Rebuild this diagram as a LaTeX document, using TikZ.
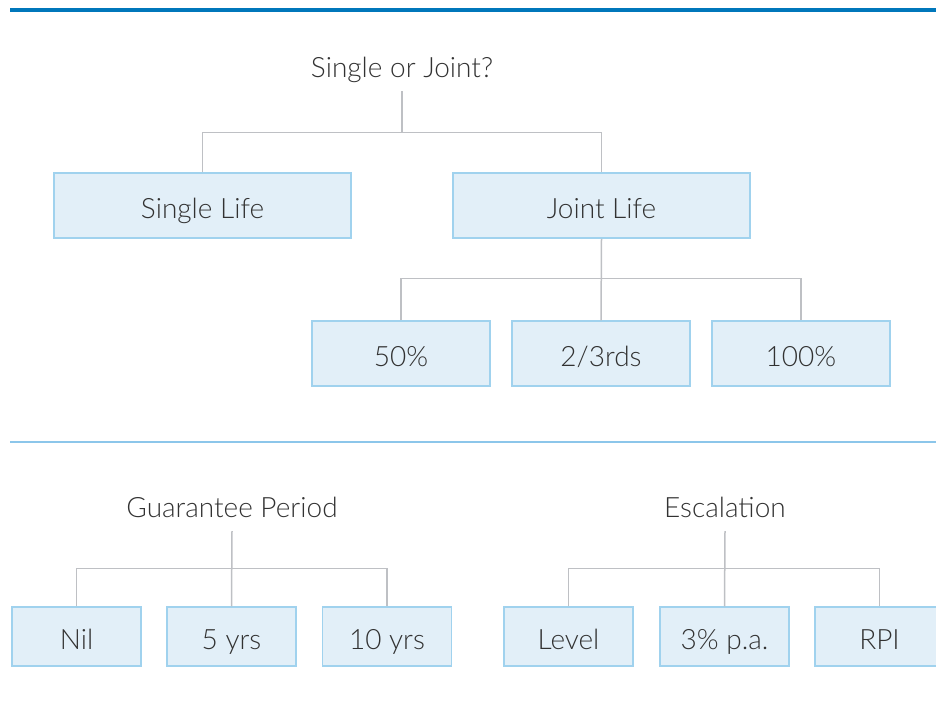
\documentclass[tikz,border=0pt]{standalone}
\usepackage{fontspec}
\setmainfont{Lato}[UprightFont=* Light]

\definecolor{topblue}{RGB}{0,119,187}
\definecolor{ruleblue}{RGB}{140,198,234}
\definecolor{boxfill}{RGB}{226,239,248}
\definecolor{boxline}{RGB}{160,210,238}
\definecolor{linkgrey}{RGB}{190,192,196}
\definecolor{ink}{RGB}{50,50,50}

\tikzset{
  choice/.style={draw=boxline, fill=boxfill, line width=1.5pt, inner sep=0pt, text=ink,
    font=\fontsize{28}{32}\selectfont, text height=25pt, text depth=0pt},
  widebox/.style={choice, minimum width=297pt, minimum height=65pt},
  midbox/.style={choice, minimum width=178pt, minimum height=65pt},
  smallbox/.style={choice, minimum width=129pt, minimum height=59pt},
  heading/.style={text=ink, font=\fontsize{28}{32}\selectfont, inner sep=0pt, text depth=6pt, anchor=base},
  link/.style={draw=linkgrey, line width=1.5pt},
}

\begin{document}
\begin{tikzpicture}[x=1pt,y=-1pt]
\useasboundingbox (0,0) rectangle (936,720);
\clip (0,0) rectangle (936,720);

\draw[topblue, line width=4pt] (10,10) -- (936,10);
\draw[ruleblue, line width=2.5pt] (10,442) -- (936,442);

\node[heading] (q) at (402,77) {Single or Joint?};
\node[widebox] (single) at (202.5,205.5) {Single Life};
\node[widebox] (joint) at (601.5,205.5) {Joint Life};

\node[midbox] (fifty) at (401,353.5) {50\%};
\node[midbox] (thirds) at (601,353.5) {2/3rds};
\node[midbox] (hundred) at (801,353.5) {100\%};

\draw[link] ([yshift=-8pt]q.south) -- ([yshift=40pt]q.south |- single.north);
\draw[link] (single.north) -- ++(0,-40) -| (joint.north);
\draw[link] (joint.south) -- (thirds.north);
\draw[link] (fifty.north) -- ++(0,-42) -| (hundred.north);

\node[heading] (guar) at (232,517) {Guarantee Period};
\node[smallbox] (nil) at (76.5,636.5) {Nil};
\node[smallbox] (five) at (231.5,636.5) {5 yrs};
\node[smallbox] (ten) at (387,636.5) {10 yrs};

\draw[link] ([yshift=-8pt]guar.south) -- (five.north);
\draw[link] (nil.north) -- ++(0,-38) -| (ten.north);

\node[heading] (esc) at (725,517) {Escalation};
\node[smallbox] (level) at (568.5,636.5) {Level};
\node[smallbox] (three) at (724.5,636.5) {3\% p.a.};
\node[smallbox] (rpi) at (879.5,636.5) {RPI};

\draw[link] ([yshift=-8pt]esc.south) -- (three.north);
\draw[link] (level.north) -- ++(0,-38) -| (rpi.north);
\end{tikzpicture}
\end{document}
